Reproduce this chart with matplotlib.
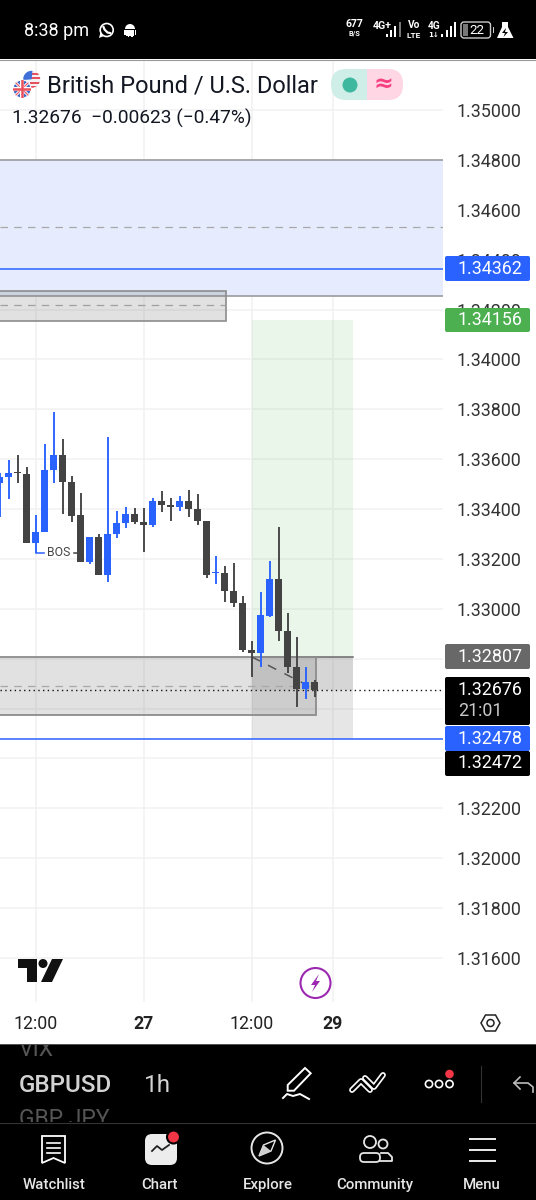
import matplotlib.pyplot as plt
import numpy as np
from matplotlib.patches import Rectangle, FancyBboxPatch, Circle, Polygon, Wedge

plt.rcParams['font.family'] = ['Roboto', 'DejaVu Sans']

# hourly candles, left to right
opens = [1.33503, 1.33528, 1.33548, 1.33540, 1.33262, 1.33308, 1.33555, 1.33617, 1.33509,
         1.33375, 1.33189, 1.33289, 1.33135, 1.33300, 1.33343, 1.33380, 1.33349, 1.33337,
         1.33431, 1.33417, 1.33407, 1.33433, 1.33401, 1.33353, 1.33143, 1.33142, 1.33070,
         1.33022, 1.32833, 1.32821, 1.32972, 1.33119, 1.32911, 1.32768, 1.32677, 1.32706]
highs = [1.33544, 1.33597, 1.33617, 1.33570, 1.33376, 1.33661, 1.33788, 1.33680, 1.33532,
         1.33463, 1.33289, 1.33300, 1.33688, 1.33393, 1.33407, 1.33403, 1.33403, 1.33443,
         1.33472, 1.33443, 1.33452, 1.33476, 1.33459, 1.33353, 1.33212, 1.33171, 1.33185,
         1.33052, 1.32870, 1.33067, 1.33190, 1.33328, 1.32982, 1.32886, 1.32766, 1.32714]
lows = [1.33369, 1.33439, 1.33505, 1.33262, 1.33225, 1.33308, 1.33503, 1.33380, 1.33347,
        1.33189, 1.33179, 1.33135, 1.33108, 1.33283, 1.33323, 1.33340, 1.33226, 1.33327,
        1.33387, 1.33353, 1.33393, 1.33369, 1.33336, 1.33122, 1.33099, 1.33028, 1.33008,
        1.32828, 1.32725, 1.32768, 1.32968, 1.32872, 1.32741, 1.32607, 1.32639, 1.32645]
closes = [1.33530, 1.33546, 1.33546, 1.33262, 1.33309, 1.33556, 1.33617, 1.33508, 1.33373,
          1.33189, 1.33289, 1.33135, 1.33300, 1.33345, 1.33380, 1.33349, 1.33337, 1.33431,
          1.33417, 1.33407, 1.33433, 1.33401, 1.33353, 1.33134, 1.33146, 1.33070, 1.33022,
          1.32833, 1.32821, 1.32975, 1.33119, 1.32911, 1.32768, 1.32677, 1.32706, 1.32676]

price_ticks = [1.35, 1.348, 1.346, 1.344, 1.342, 1.34, 1.338, 1.336, 1.334, 1.332, 1.33,
               1.322, 1.32, 1.318, 1.316]
# these three sit fully behind the price labels, only their grid lines show
hidden_ticks = [1.328, 1.326, 1.324]
time_ticks = [4, 16, 28, 37]
time_labels = ['12:00', '27', '12:00', '29']

price_labels = [('1.34362', 256, 281, '#2962ff', 'white'),
                ('1.34156', 308, 332, '#4caf50', 'white'),
                ('1.32807', 644, 669, '#686868', 'white'),
                ('1.32478', 726, 751, '#2962ff', 'white'),
                ('1.32472', 751, 776, '#000000', 'white')]

blue = '#2962ff'
dark = '#434343'
W, H = 536, 1200

fig = plt.figure(figsize=(5.36, 12), dpi=100, facecolor='white')
ax = fig.add_axes([0, (H - 1002) / H, 443 / W, 942 / H])
ax.set_xlim(0.03, 443 / 9 + 0.03)
ax.set_ylim(1.35 - 892 * 0.0000401, 1.35 + 50 * 0.0000401)
for s in ax.spines.values():
    s.set_visible(False)

ax.yaxis.tick_right()
ax.set_yticks(price_ticks)
ax.set_yticks(hidden_ticks, minor=True)
ax.set_yticklabels(['%.5f' % p for p in price_ticks], fontsize=12.9, color='#333333')
ax.set_xticks(time_ticks)
ax.set_xticklabels(time_labels, fontsize=12.8, color='#222222')
for lab, t in zip(ax.get_xticklabels(), time_labels):
    if ':' not in t:
        lab.set_fontweight('bold')
ax.tick_params(axis='y', which='both', length=0, pad=10)
ax.tick_params(axis='x', length=0, pad=9.5)
ax.grid(True, which='both', color='#f1f1f1', lw=1.1)
ax.set_axisbelow(True)

# zones
ax.axhspan(1.34254, 1.34800, color='#e6ecfe', lw=0, zorder=1)
ax.plot([0, 50], [1.348, 1.348], color='#9a9aa0', lw=1.2, zorder=2)
ax.plot([0, 50], [1.34254, 1.34254], color='#9a9aa0', lw=1.2, zorder=2)
ax.plot([0, 50], [1.34531, 1.34531], color='#a8a8a8', lw=0.9, ls=(0, (6, 5)), zorder=2)

ax.add_patch(Rectangle((-2, 1.34154), 27.1, 0.0012, fc='#787878', alpha=0.22, lw=0, zorder=2))
ax.add_patch(Rectangle((-2, 1.34154), 27.1, 0.0012, fc='none', ec='#8c8c8c', lw=1.2, zorder=2))
ax.plot([0, 25.1], [1.34218, 1.34218], color='#a0a0a0', lw=0.9, ls=(0, (6, 5)), zorder=2)

ax.add_patch(Rectangle((28, 1.32807), 11.2, 1.34156 - 1.32807, fc='#4caf50', alpha=0.11, lw=0, zorder=1))
ax.add_patch(Rectangle((28, 1.32676), 11.2, 1.32807 - 1.32676, fc='#787878', alpha=0.3, lw=0, zorder=1.5))
ax.add_patch(Rectangle((28, 1.32478), 11.2, 1.32676 - 1.32478, fc='#787878', alpha=0.18, lw=0, zorder=1.5))
ax.plot([28, 39.2], [1.32807, 1.32807], color='#6a6a6a', lw=1.1, zorder=2)
ax.plot([28, 35.1], [1.32807, 1.32676], color='#555555', lw=1.1, ls=(0, (6, 6)), zorder=4)

ax.add_patch(Rectangle((-2, 1.32574), 37.1, 1.32807 - 1.32574, fc='#787878', alpha=0.22, lw=0, zorder=2))
ax.add_patch(Rectangle((-2, 1.32574), 37.1, 1.32807 - 1.32574, fc='none', ec='#8c8c8c', lw=1.3, zorder=2))
ax.plot([0, 35.1], [1.3269, 1.3269], color='#a8a8a8', lw=0.9, ls=(0, (6, 5)), zorder=2)

ax.plot([0, 50], [1.34362, 1.34362], color=blue, lw=1.1, zorder=3)
ax.plot([0, 50], [1.32478, 1.32478], color=blue, lw=1.1, zorder=3)
ax.plot([0, 50], [1.32676, 1.32676], color='#111111', lw=1.0, ls=(0, (1, 2.4)), zorder=3)

# candles
idx = np.arange(len(opens))
o, h, l, c = map(np.array, (opens, highs, lows, closes))
colors = [blue if cc >= oo else dark for oo, cc in zip(o, c)]
ax.vlines(idx, l, h, colors=colors, lw=1.35, zorder=5)
ax.bar(idx, np.maximum(np.abs(c - o), 0.00004), bottom=np.minimum(o, c), width=0.8, color=colors, lw=0, zorder=5)

# BOS marker
ax.plot([4, 4.9], [1.33225, 1.33225], color=blue, lw=1.1, zorder=5)
ax.text(6.55, 1.33225, 'BOS', fontsize=8.8, color='#444444', ha='center', va='center', zorder=6)
ax.plot([8.3, 9], [1.33225, 1.33225], color=dark, lw=1.1, zorder=5)

# app chrome in pixel coordinates
ui = fig.add_axes([0, 0, 1, 1], facecolor='none')
ui.set_xlim(0, W)
ui.set_ylim(H, 0)
ui.axis('off')

def label_box(x0, x1, y0, y1, color):
    ui.add_patch(FancyBboxPatch((x0 + 2, y0 + 2), x1 - x0 - 4, y1 - y0 - 4,
                                boxstyle='round,pad=2,rounding_size=2', fc=color, ec='none'))

for txt, y0, y1, col, tc in price_labels:
    label_box(445, 530, y0, y1, col)
    ui.text(490, (y0 + y1) / 2, txt, color=tc, fontsize=12.9, ha='center', va='center')
label_box(445, 530, 677, 725, '#000000')
ui.text(490, 690, '1.32676', color='white', fontsize=12.9, ha='center', va='center')
ui.text(458, 711, '21:01', color='#c8c8c8', fontsize=12.9, ha='left', va='center')

# top bar
ui.add_patch(Rectangle((0, 0), W, 59, fc='black', lw=0))
ui.plot([0, W], [60, 60], color='#999999', lw=0.8)
ui.text(24, 31, '8:38 pm', color='white', fontsize=13, va='center')
# whatsapp
ui.add_patch(Circle((106.7, 30), 6.5, fc='none', ec='white', lw=1.2))
ui.add_patch(Polygon([(99, 38), (100.5, 32), (104, 36)], fc='white', lw=0))
ui.plot([103.5, 104.5, 107.5, 110], [27, 29.5, 32.5, 33], color='white', lw=1.6)
# android
ui.add_patch(Wedge((130, 29), 5, 180, 360, fc='white', lw=0))
ui.add_patch(Rectangle((126, 30), 8, 5.5, fc='white', lw=0))
ui.add_patch(Rectangle((124, 30), 1.5, 5, fc='white', lw=0))
ui.add_patch(Rectangle((134.5, 30), 1.5, 5, fc='white', lw=0))
ui.add_patch(Rectangle((127.5, 35), 1.6, 2, fc='white', lw=0))
ui.add_patch(Rectangle((131, 35), 1.6, 2, fc='white', lw=0))

ui.text(354.7, 24, '677', color='white', fontsize=7.6, fontweight='bold', ha='center', va='center')
ui.text(354.7, 34, 'B/S', color='white', fontsize=5.2, fontweight='bold', ha='center', va='center')
ui.text(382.5, 26, '4G+', color='white', fontsize=7.6, fontweight='bold', ha='center', va='center')
ui.text(414, 25.5, 'Vo', color='white', fontsize=7.3, fontweight='bold', ha='center', va='center')
ui.text(414, 35, 'LTE', color='white', fontsize=6, fontweight='bold', ha='center', va='center')
ui.text(434, 26, '4G', color='white', fontsize=7.3, fontweight='bold', ha='center', va='center')
ui.text(433.5, 35, '1\u2193', color='white', fontsize=5, fontweight='bold', ha='center', va='center',
        family=['DejaVu Sans'])
for bx, top, col in [(385.5, 34, 'white'), (389.5, 30, 'white'), (394, 26, 'white'), (398.5, 22, '#777777'),
                     (441, 34, 'white'), (445.5, 30, 'white'), (449.8, 26, 'white'), (454, 22, 'white')]:
    ui.add_patch(Rectangle((bx, top), 2.2, 37 - top, fc=col, lw=0))
ui.add_patch(FancyBboxPatch((461.5, 22.5), 28.5, 15, boxstyle='round,pad=0.5,rounding_size=3', fc='none', ec='#cccccc', lw=1))
ui.add_patch(Rectangle((463, 24), 5, 12, fc='#777777', lw=0))
ui.add_patch(Rectangle((492.5, 27), 1.5, 6, fc='#cccccc', lw=0))
ui.text(476.5, 30.3, '22', color='white', fontsize=9.6, ha='center', va='center')
ui.add_patch(Polygon([(502, 22), (508, 22), (508, 27), (513.5, 38), (497, 38), (502, 27)], fc='white', lw=0))
ui.add_patch(Polygon([(506, 28), (502, 33), (505, 33), (503.5, 37), (508, 32), (505, 32)], fc='black', lw=0))

# header
us = Circle((31.7, 79.3), 8.5, fc='#f2f2f6', lw=0, zorder=6)
ui.add_patch(us)
for sy in [72.5, 77, 81.5, 85.5]:
    stripe = Rectangle((30, sy), 12, 2.2, fc='#e8505b', lw=0, zorder=6)
    ui.add_patch(stripe)
    stripe.set_clip_path(us)
ui.add_patch(Wedge((31.7, 79.3), 8.5, 175, 275, fc='#3f6fd8', lw=0, zorder=6))
uk = Circle((22, 89), 9, fc='#2f5fc4', ec='white', lw=0.7, zorder=7)
ui.add_patch(uk)
for xs, ys, col, lw in [([13, 31], [80, 98], 'white', 2.2), ([13, 31], [98, 80], 'white', 2.2),
                        ([13, 31], [80, 98], '#e8505b', 0.8), ([13, 31], [98, 80], '#e8505b', 0.8),
                        ([13, 31], [89, 89], 'white', 3), ([22, 22], [80, 98], 'white', 3),
                        ([13, 31], [89, 89], '#e8505b', 1.8), ([22, 22], [80, 98], '#e8505b', 1.8)]:
    ln, = ui.plot(xs, ys, color=col, lw=lw, zorder=8)
    ln.set_clip_path(uk)
ui.text(47, 85.5, 'British Pound / U.S. Dollar', color='#131722', fontsize=17.05, va='center')
ui.text(12, 118.5, '1.32676  \u22120.00623 (\u22120.47%)', color='#131722', fontsize=13.8, va='center')
ui.add_patch(FancyBboxPatch((347, 69), 56, 31, boxstyle='round,pad=0,rounding_size=15', fc='#ffd6e4', ec='none'))
ui.add_patch(FancyBboxPatch((331, 69), 50, 31, boxstyle='round,pad=0,rounding_size=15', fc='#d0eee8', ec='none'))
ui.add_patch(Rectangle((367, 69), 16, 31, fc='#ffd6e4', lw=0))
ui.add_patch(Circle((350, 85), 7.5, fc='#3fb8a0', lw=0))
ui.text(383.5, 84, '\u2248', color='#f7407f', fontsize=17, fontweight='bold', ha='center', va='center',
        family=['DejaVu Sans'])

# tradingview logo and the lightning button
ui.add_patch(Polygon([(18, 959), (37, 959), (37, 982), (27, 982), (27, 968), (18, 968)], fc='#111111', lw=0))
ui.add_patch(Circle((43, 963.5), 4.5, fc='#111111', lw=0))
ui.add_patch(Polygon([(52, 959), (63, 959), (52, 982), (41, 982)], fc='#111111', lw=0))
ui.add_patch(Circle((315.5, 983), 15, fc='white', ec='#9c27b0', lw=1.5))
ui.add_patch(Polygon([(319, 974), (311, 985), (315, 985), (312, 992), (320, 981), (316, 981)], fc='#9c27b0', lw=0))
ui.add_patch(Polygon([(481, 1023), (485.5, 1015), (495.5, 1015), (500, 1023), (495.5, 1031), (485.5, 1031)],
                     fc='white', ec='#222222', lw=1.1))
ui.add_patch(Circle((490.5, 1023), 3.5, fc='white', ec='#222222', lw=1.1))

# bottom panel
ui.add_patch(Rectangle((0, 1044), W, 156, fc='black', lw=0))
ui.plot([0, W], [1044, 1044], color='#555555', lw=0.7)
clip_top = Rectangle((0, 1045), W, 77, transform=ui.transData)
for txt, yy in [('VIX', 1050), ('GBP JPY', 1120)]:
    t = ui.text(19, yy, txt, color='#555555', fontsize=16.5, va='center', clip_on=True)
    t.set_clip_path(clip_top)
ui.text(19, 1085, 'GBPUSD', color='#d2d2d2', fontsize=17.4, fontweight='medium', va='center')
ui.text(144, 1085, '1h', color='#d2d2d2', fontsize=17.5, va='center')

# pencil
ui.add_patch(Polygon([(287.7, 1085), (305, 1068), (310.7, 1073.3), (294, 1090.7), (287.7, 1090.7)],
                     fc='none', ec='white', lw=1.4))
ui.plot([283, 287, 293, 300, 309], [1098, 1094, 1096, 1094, 1099], color='white', lw=1.4)
# templates
for xs, ys in [([352, 361, 370], [1090, 1081, 1090]), ([365, 374, 383], [1078, 1087, 1075])]:
    ui.plot(xs, ys, color='white', lw=4.2, solid_capstyle='round', solid_joinstyle='round')
    ui.plot(xs, ys, color='black', lw=1.8, solid_capstyle='round', solid_joinstyle='round')
# alerts dots
for cx in [429, 439, 449.5]:
    ui.add_patch(Circle((cx, 1084), 3.6, fc='black', ec='white', lw=1.2))
ui.add_patch(Circle((449.5, 1074), 4.3, fc='#f23645', lw=0))
ui.plot([481, 481], [1066, 1102], color='#333333', lw=0.8)
# undo
ui.plot([520, 514, 520], [1077, 1083, 1089], color='#bbbbbb', lw=1.2)
ui.plot([514, 528, 533, 533], [1083, 1083, 1087, 1092], color='#bbbbbb', lw=1.2)

ui.plot([0, W], [1123, 1123], color='#333333', lw=0.8)

# nav bar
nav_names = ['Watchlist', 'Chart', 'Explore', 'Community', 'Menu']
nav_x = [54, 160, 268, 375, 482]
for name, nx in zip(nav_names, nav_x):
    ui.text(nx, 1185, name, color='#e6e6e6', fontsize=10.8, fontweight='medium', ha='center', va='center')

ui.add_patch(Polygon([(42, 1136), (65, 1136), (65, 1163), (53.5, 1158), (42, 1163)], fc='black', ec='white', lw=1.3))
for ly in [1143, 1148, 1153]:
    ui.plot([47, 60], [ly, ly], color='white', lw=1.2)

ui.add_patch(FancyBboxPatch((145, 1134), 32, 31, boxstyle='round,pad=0,rounding_size=7', fc='#ededed', ec='none'))
ui.plot([152, 157, 162, 169], [1151, 1146, 1150, 1145], color='#222222', lw=1.3)
ui.add_patch(Circle((173.5, 1137), 6.5, fc='#f23645', ec='black', lw=1.5))

# compass
ui.add_patch(Circle((267, 1148), 15.5, fc='none', ec='#e6e6e6', lw=1.4))
ui.add_patch(Polygon([(275.5, 1140), (271, 1151), (259, 1156), (263.5, 1145)], fc='black', ec='#e6e6e6', lw=1))
ui.add_patch(Polygon([(271, 1151), (259, 1156), (263.5, 1145)], fc='#cfcfcf', lw=0))

# community
ui.add_patch(Circle((370, 1142), 6, fc='none', ec='#e6e6e6', lw=1.3))
ui.add_patch(Circle((383, 1144), 4.5, fc='none', ec='#e6e6e6', lw=1.3))
ui.add_patch(FancyBboxPatch((360, 1153), 20, 9, boxstyle='round,pad=0,rounding_size=4', fc='black', ec='#e6e6e6', lw=1.3))
ui.plot([381, 388, 392, 392, 380], [1153, 1153, 1157, 1161, 1161], color='#e6e6e6', lw=1.3)

for ly in [1139, 1150, 1161]:
    ui.add_patch(Rectangle((469, ly - 1.4), 27, 2.8, fc='#e6e6e6', lw=0))

fig.savefig('out.png', dpi=100, facecolor='white')
